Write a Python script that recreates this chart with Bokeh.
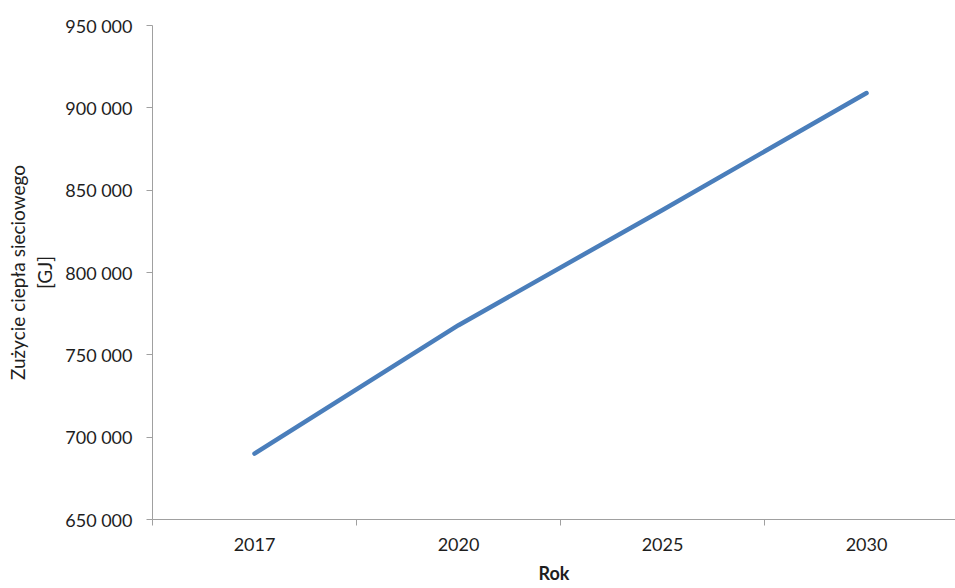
from bokeh.plotting import figure
from bokeh.models import Range1d, FixedTicker, LinearAxis
from bokeh.embed import file_html
from bokeh.resources import INLINE

# Network heat consumption forecast
years = ["2017", "2020", "2025", "2030"]
consumption_gj = [690000, 768000, 838000, 909000]
y_ticks = [650000, 700000, 750000, 800000, 850000, 900000, 950000]

# categories sit in the middle of equal-width slots, ticks fall on slot edges
x_pos = [i + 0.5 for i in range(len(years))]
slot_edges = list(range(len(years) + 1))

FONT = "Lato"
TEXT = "#1e1e1e"
GRID = "#a0a0a0"

p = figure(
    width=955, height=588,
    output_backend="svg", toolbar_location=None,
    x_range=Range1d(0, 3.936), y_range=Range1d(650000, 950000),
    x_axis_type=None, y_axis_type=None,
    min_border_left=152, min_border_right=0,
    min_border_top=25, min_border_bottom=69,
)
p.outline_line_color = None
p.background_fill_color = "white"
p.border_fill_color = "white"

# x axis: year labels centred in slots, tick marks between slots
xaxis = LinearAxis(
    ticker=FixedTicker(ticks=x_pos, minor_ticks=slot_edges),
    major_label_overrides={x: y for x, y in zip(x_pos, years)},
    axis_label="Rok",
)
xaxis.major_tick_out = 0
xaxis.major_tick_in = 0
xaxis.minor_tick_out = 6
xaxis.minor_tick_in = 0
xaxis.minor_tick_line_color = GRID
xaxis.axis_line_color = GRID
xaxis.major_label_text_font = FONT
xaxis.major_label_text_font_size = "18px"
xaxis.major_label_text_color = TEXT
xaxis.major_label_standoff = 12
xaxis.axis_label_text_font = FONT
xaxis.axis_label_text_font_size = "18px"
xaxis.axis_label_text_font_style = "bold"
xaxis.axis_label_text_color = TEXT
xaxis.axis_label_standoff = 8
p.add_layout(xaxis, "below")

# y axis with space-separated thousands
yaxis = LinearAxis(
    ticker=FixedTicker(ticks=y_ticks, minor_ticks=[]),
    major_label_overrides={v: f"{v:,}".replace(",", " ") for v in y_ticks},
    axis_label="Zużycie ciepła sieciowego\n[GJ]",
)
yaxis.major_tick_out = 6
yaxis.major_tick_in = 0
yaxis.major_tick_line_color = GRID
yaxis.axis_line_color = GRID
yaxis.major_label_text_font = FONT
yaxis.major_label_text_font_size = "18px"
yaxis.major_label_text_color = TEXT
yaxis.major_label_standoff = 14
yaxis.axis_label_text_font = FONT
yaxis.axis_label_text_font_size = "19px"
yaxis.axis_label_text_font_style = "normal"
yaxis.axis_label_text_color = TEXT
yaxis.axis_label_standoff = 6
p.add_layout(yaxis, "left")

p.ygrid.ticker = FixedTicker(ticks=y_ticks)
p.ygrid.grid_line_color = GRID
p.ygrid.grid_line_width = 1
p.xgrid.grid_line_color = None

p.line(x_pos, consumption_gj, line_color="#4a7ebb", line_width=4.5,
       line_cap="round", line_join="round")

open("out.html", "w").write(file_html(p, INLINE))
